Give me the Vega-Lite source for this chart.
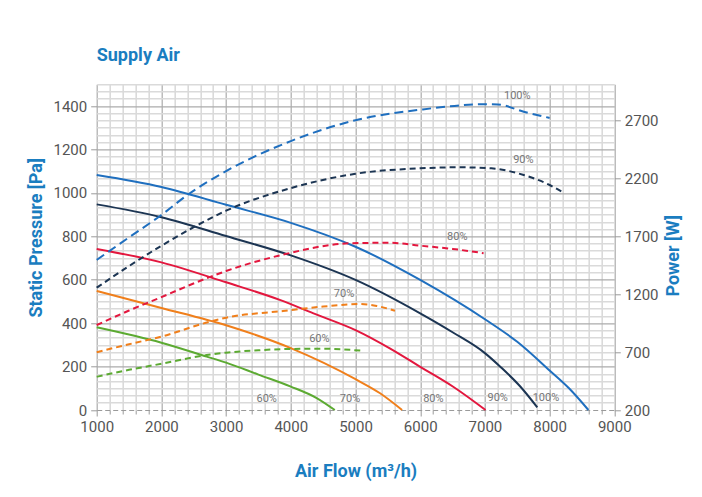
{
  "$schema": "https://vega.github.io/schema/vega-lite/v6.json",
  "width": 517.6,
  "height": 325.7,
  "autosize": {"type": "none"},
  "padding": {"left": 96.7, "top": 84.3, "right": 87.7, "bottom": 87},
  "background": "white",
  "config": {"view": {"stroke": null}},
  "title": {
    "text": "Supply Air",
    "anchor": "start",
    "frame": "group",
    "baseline": "alphabetic",
    "offset": -2,
    "font": "Roboto, sans-serif",
    "fontSize": 18,
    "fontWeight": "bold",
    "color": "#1a7dc0"
  },
  "datasets": {
    "pressure": [
      {"flow": 1000, "pa": 1082, "speed": "100%"},
      {"flow": 2000, "pa": 1027, "speed": "100%"},
      {"flow": 3000, "pa": 945, "speed": "100%"},
      {"flow": 4000, "pa": 862, "speed": "100%"},
      {"flow": 5000, "pa": 752, "speed": "100%"},
      {"flow": 6000, "pa": 599, "speed": "100%"},
      {"flow": 7000, "pa": 418, "speed": "100%"},
      {"flow": 7500, "pa": 314, "speed": "100%"},
      {"flow": 8000, "pa": 182, "speed": "100%"},
      {"flow": 8300, "pa": 100, "speed": "100%"},
      {"flow": 8600, "pa": 0, "speed": "100%"},
      {"flow": 1000, "pa": 947, "speed": "90%"},
      {"flow": 2000, "pa": 888, "speed": "90%"},
      {"flow": 3000, "pa": 801, "speed": "90%"},
      {"flow": 4000, "pa": 712, "speed": "90%"},
      {"flow": 5000, "pa": 599, "speed": "90%"},
      {"flow": 6000, "pa": 445, "speed": "90%"},
      {"flow": 6500, "pa": 358, "speed": "90%"},
      {"flow": 7000, "pa": 262, "speed": "90%"},
      {"flow": 7250, "pa": 196, "speed": "90%"},
      {"flow": 7550, "pa": 107, "speed": "90%"},
      {"flow": 7810, "pa": 12, "speed": "90%"},
      {"flow": 1000, "pa": 742, "speed": "80%"},
      {"flow": 2000, "pa": 680, "speed": "80%"},
      {"flow": 3000, "pa": 588, "speed": "80%"},
      {"flow": 3830, "pa": 507, "speed": "80%"},
      {"flow": 4350, "pa": 445, "speed": "80%"},
      {"flow": 5000, "pa": 368, "speed": "80%"},
      {"flow": 5530, "pa": 284, "speed": "80%"},
      {"flow": 6000, "pa": 199, "speed": "80%"},
      {"flow": 6510, "pa": 107, "speed": "80%"},
      {"flow": 7010, "pa": 0, "speed": "80%"},
      {"flow": 1000, "pa": 548, "speed": "70%"},
      {"flow": 2000, "pa": 470, "speed": "70%"},
      {"flow": 3000, "pa": 390, "speed": "70%"},
      {"flow": 4000, "pa": 285, "speed": "70%"},
      {"flow": 5000, "pa": 142, "speed": "70%"},
      {"flow": 5380, "pa": 77, "speed": "70%"},
      {"flow": 5720, "pa": 0, "speed": "70%"},
      {"flow": 1000, "pa": 381, "speed": "60%"},
      {"flow": 2000, "pa": 310, "speed": "60%"},
      {"flow": 2700, "pa": 246, "speed": "60%"},
      {"flow": 3000, "pa": 218, "speed": "60%"},
      {"flow": 3500, "pa": 163, "speed": "60%"},
      {"flow": 4000, "pa": 108, "speed": "60%"},
      {"flow": 4400, "pa": 55, "speed": "60%"},
      {"flow": 4680, "pa": 0, "speed": "60%"}
    ],
    "power": [
      {"flow": 1000, "w": 1496, "speed": "100%"},
      {"flow": 1500, "w": 1691, "speed": "100%"},
      {"flow": 2000, "w": 1884, "speed": "100%"},
      {"flow": 2400, "w": 2056, "speed": "100%"},
      {"flow": 3000, "w": 2263, "speed": "100%"},
      {"flow": 4000, "w": 2522, "speed": "100%"},
      {"flow": 5000, "w": 2702, "speed": "100%"},
      {"flow": 6000, "w": 2793, "speed": "100%"},
      {"flow": 7000, "w": 2840, "speed": "100%"},
      {"flow": 7200, "w": 2838, "speed": "100%"},
      {"flow": 7600, "w": 2776, "speed": "100%"},
      {"flow": 8000, "w": 2722, "speed": "100%"},
      {"flow": 1000, "w": 1256, "speed": "90%"},
      {"flow": 1500, "w": 1443, "speed": "90%"},
      {"flow": 2000, "w": 1618, "speed": "90%"},
      {"flow": 2500, "w": 1779, "speed": "90%"},
      {"flow": 3000, "w": 1921, "speed": "90%"},
      {"flow": 4000, "w": 2116, "speed": "90%"},
      {"flow": 5000, "w": 2240, "speed": "90%"},
      {"flow": 6000, "w": 2287, "speed": "90%"},
      {"flow": 6600, "w": 2296, "speed": "90%"},
      {"flow": 7100, "w": 2287, "speed": "90%"},
      {"flow": 7600, "w": 2229, "speed": "90%"},
      {"flow": 8000, "w": 2143, "speed": "90%"},
      {"flow": 8200, "w": 2081, "speed": "90%"},
      {"flow": 1000, "w": 933, "speed": "80%"},
      {"flow": 1500, "w": 1059, "speed": "80%"},
      {"flow": 2000, "w": 1175, "speed": "80%"},
      {"flow": 2700, "w": 1338, "speed": "80%"},
      {"flow": 3000, "w": 1400, "speed": "80%"},
      {"flow": 3830, "w": 1535, "speed": "80%"},
      {"flow": 4940, "w": 1640, "speed": "80%"},
      {"flow": 5530, "w": 1644, "speed": "80%"},
      {"flow": 6000, "w": 1619, "speed": "80%"},
      {"flow": 6500, "w": 1591, "speed": "80%"},
      {"flow": 6980, "w": 1554, "speed": "80%"},
      {"flow": 1000, "w": 699, "speed": "70%"},
      {"flow": 1500, "w": 768, "speed": "70%"},
      {"flow": 2000, "w": 834, "speed": "70%"},
      {"flow": 2750, "w": 963, "speed": "70%"},
      {"flow": 3000, "w": 997, "speed": "70%"},
      {"flow": 3880, "w": 1055, "speed": "70%"},
      {"flow": 4500, "w": 1093, "speed": "70%"},
      {"flow": 5070, "w": 1115, "speed": "70%"},
      {"flow": 5330, "w": 1098, "speed": "70%"},
      {"flow": 5610, "w": 1057, "speed": "70%"},
      {"flow": 1000, "w": 487, "speed": "60%"},
      {"flow": 1500, "w": 547, "speed": "60%"},
      {"flow": 2000, "w": 599, "speed": "60%"},
      {"flow": 2700, "w": 674, "speed": "60%"},
      {"flow": 3000, "w": 695, "speed": "60%"},
      {"flow": 3500, "w": 716, "speed": "60%"},
      {"flow": 4000, "w": 727, "speed": "60%"},
      {"flow": 4500, "w": 729, "speed": "60%"},
      {"flow": 5100, "w": 712, "speed": "60%"}
    ],
    "labels": [
      {"flow": 7500, "pa": 1446, "label": "100%"},
      {"flow": 7594, "pa": 1152, "label": "90%"},
      {"flow": 6573, "pa": 798, "label": "80%"},
      {"flow": 4822, "pa": 534, "label": "70%"},
      {"flow": 4441, "pa": 326, "label": "60%"},
      {"flow": 3627, "pa": 51, "label": "60%"},
      {"flow": 4915, "pa": 49, "label": "70%"},
      {"flow": 6203, "pa": 51, "label": "80%"},
      {"flow": 7198, "pa": 53, "label": "90%"},
      {"flow": 7944, "pa": 53, "label": "100%"}
    ]
  },
  "encoding": {
    "x": {
      "field": "flow",
      "type": "quantitative",
      "scale": {"domain": [1000, 9000], "nice": false, "zero": false},
      "axis": {
        "values": [1000, 1200, 1400, 1600, 1800, 2000, 2200, 2400, 2600, 2800, 3000, 3200, 3400, 3600, 3800, 4000, 4200, 4400, 4600, 4800, 5000, 5200, 5400, 5600, 5800, 6000, 6200, 6400, 6600, 6800, 7000, 7200, 7400, 7600, 7800, 8000, 8200, 8400, 8600, 8800, 9000],
        "labelExpr": "datum.value % 1000 === 0 ? format(datum.value, 'd') : ''",
        "labelOverlap": false,
        "labelFlush": false,
        "grid": true,
        "gridColor": {"condition": {"test": "datum.value % 1000 === 0", "value": "#ababab"}, "value": "#dadada"},
        "gridWidth": {"condition": {"test": "datum.value % 1000 === 0", "value": 1.2}, "value": 1.6},
        "tickColor": "#9a9a9a",
        "tickSize": {"condition": {"test": "datum.value % 1000 === 0", "value": 6}, "value": 4},
        "domain": true,
        "domainColor": "#9a9a9a",
        "domainDash": [5, 3],
        "domainWidth": 1.2,
        "labelFont": "Roboto, sans-serif",
        "labelFontSize": 15,
        "labelColor": "#555555",
        "labelPadding": 3,
        "title": "Air Flow (m³/h)",
        "titleFont": "Roboto, sans-serif",
        "titleFontSize": 18,
        "titleFontWeight": "bold",
        "titleColor": "#1a7dc0",
        "titleBaseline": "alphabetic",
        "titleY": 66.7
      }
    }
  },
  "layer": [
    {
      "data": {"name": "pressure"},
      "mark": {"type": "line", "strokeWidth": 2, "interpolate": "monotone"},
      "encoding": {
        "y": {
          "field": "pa",
          "type": "quantitative",
          "scale": {"domain": [0, 1500], "nice": false},
          "axis": {
            "values": [0, 33.333, 66.667, 100, 133.333, 166.667, 200, 233.333, 266.667, 300, 333.333, 366.667, 400, 433.333, 466.667, 500, 533.333, 566.667, 600, 633.333, 666.667, 700, 733.333, 766.667, 800, 833.333, 866.667, 900, 933.333, 966.667, 1000, 1033.333, 1066.667, 1100, 1133.333, 1166.667, 1200, 1233.333, 1266.667, 1300, 1333.333, 1366.667, 1400, 1433.333, 1466.667, 1500],
            "labelExpr": "(datum.value % 200 === 0 && datum.value <= 1400) ? format(datum.value, 'd') : ''",
            "labelOverlap": false,
            "labelFlush": false,
            "grid": true,
            "gridColor": {"condition": [{"test": "datum.value === 0", "value": "rgba(0,0,0,0)"}, {"test": "datum.value % 200 === 0", "value": "#ababab"}], "value": "#dadada"},
            "gridWidth": {"condition": {"test": "datum.value % 200 === 0", "value": 1.2}, "value": 1.6},
            "tickColor": "#9a9a9a",
            "tickSize": {"condition": {"test": "datum.value % 200 === 0", "value": 6}, "value": 0},
            "domain": false,
            "labelFont": "Roboto, sans-serif",
            "labelFontSize": 15,
            "labelColor": "#555555",
            "labelPadding": 4,
            "title": "Static Pressure [Pa]",
            "titleFont": "Roboto, sans-serif",
            "titleFontSize": 18,
            "titleFontWeight": "bold",
            "titleColor": "#1a7dc0",
            "titleAngle": 270,
            "titleAlign": "center",
            "titleBaseline": "alphabetic",
            "titleX": -55,
            "titleY": 153
          }
        },
        "color": {
          "field": "speed",
          "type": "nominal",
          "scale": {"domain": ["100%", "90%", "80%", "70%", "60%"], "range": ["#1f6fbf", "#1c3553", "#e3173e", "#f07f1b", "#5caa32"]},
          "legend": null
        }
      }
    },
    {
      "data": {"name": "labels"},
      "mark": {"type": "text", "font": "Roboto, sans-serif", "fontSize": 11, "color": "#777777", "align": "center", "baseline": "middle"},
      "encoding": {
        "y": {"field": "pa", "type": "quantitative", "scale": {"domain": [0, 1500], "nice": false}, "axis": null},
        "text": {"field": "label"}
      }
    },
    {
      "data": {"name": "power"},
      "mark": {"type": "line", "strokeWidth": 2, "interpolate": "monotone"},
      "encoding": {
        "y": {
          "field": "w",
          "type": "quantitative",
          "scale": {"domain": [200, 3012.5], "nice": false, "zero": false},
          "axis": {
            "orient": "right",
            "values": [200, 700, 1200, 1700, 2200, 2700],
            "format": "d",
            "grid": false,
            "domain": false,
            "tickColor": "#9a9a9a",
            "tickSize": 6,
            "labelFont": "Roboto, sans-serif",
            "labelFontSize": 15,
            "labelColor": "#555555",
            "labelPadding": 4,
            "labelOverlap": false,
            "labelFlush": false,
            "title": "Power [W]",
            "titleFont": "Roboto, sans-serif",
            "titleFontSize": 18,
            "titleFontWeight": "bold",
            "titleColor": "#1a7dc0",
            "titleAngle": 270,
            "titleAlign": "center",
            "titleBaseline": "alphabetic",
            "titleX": 64,
            "titleY": 171
          }
        },
        "color": {
          "field": "speed",
          "type": "nominal",
          "scale": {"domain": ["100%", "90%", "80%", "70%", "60%"], "range": ["#1f6fbf", "#1c3553", "#e3173e", "#f07f1b", "#5caa32"]},
          "legend": null
        },
        "strokeDash": {
          "field": "speed",
          "type": "nominal",
          "scale": {"domain": ["100%", "90%", "80%", "70%", "60%"], "range": [[9, 5], [6, 4], [6, 4], [6, 4], [6, 4]]},
          "legend": null
        }
      }
    }
  ],
  "resolve": {"scale": {"y": "independent"}, "axis": {"y": "independent"}}
}
